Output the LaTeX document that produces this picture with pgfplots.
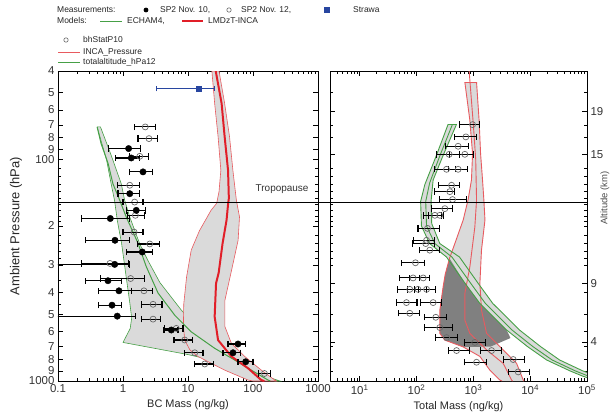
\documentclass[border=0pt]{standalone}
\usepackage{fontspec}
\setmainfont{Liberation Sans}
\usepackage{pgfplots}
\usepackage{pgfplotstable}
\pgfplotsset{compat=1.18}

\definecolor{mgreen}{RGB}{70,160,70}
\definecolor{mred}{RGB}{225,30,40}
\definecolor{lred}{RGB}{232,90,95}
\definecolor{fillg}{RGB}{218,218,218}
\definecolor{darkf}{RGB}{128,128,128}
\definecolor{mblue}{RGB}{40,70,160}
\definecolor{ogray}{RGB}{105,105,105}

% SP2 Nov. 10 (filled), BC mass
\pgfplotstableread{
x p lo hi
1.22 89.5 0.603 1.87
1.34 98.7 0.773 1.81
2.03 114 1.27 2.83
1.27 143 0.838 1.81
1.60 170 1.12 2.20
0.638 185 0.228 1.24
0.753 232 0.263 1.24
1.98 262 1.15 2.83
0.745 298 0.05 1.24
0.587 353 0.263 0.942
0.867 392 0.423 1.37
0.678 455 0.423 0.942
0.816 510 0.05 1.57
5.54 589 4.27 7.02
58.8 681 41.2 77.2
49.2 746 34.5 64.7
77.2 819 58.8 100
}\bcten

% SP2 Nov. 12 (open), BC mass
\pgfplotstableread{
x p lo hi
2.20 71.5 1.51 3.14
2.51 80.7 1.70 3.37
1.81 97 1.24 2.50
1.27 131 0.816 1.81
1.51 156 1.00 2.03
1.55 179 1.19 2.16
1.48 213 1.00 2.03
2.58 241 1.66 3.67
0.63 295 0.23 1.20
1.31 345 0.454 2.16
2.10 392 1.37 2.83
2.90 451 1.91 3.98
2.90 526 1.91 3.80
6.61 579 4.38 8.37
8.89 653 6.09 11.9
12.7 746 8.89 17.0
18.1 838 12.7 24.8
150 925 120 185
}\bctwelve

% total mass
\pgfplotstableread{
x p lo hi
968 69.8 562 1303
738 79.3 472 1138
540 87.4 327 809
375 95 224 574
708 95 385 991
337 111 210 480
540 111 360 778
413 131 240 562
385 140 210 472
430 152 257 759
315 167 183 430
210 179 131 275
257 179 160 300
156 205 106 250
150 232 86.9 210
145 240 85 205
171 257 111 257
95.7 293 54.3 140
86.9 343 50.7 114
131 343 76 171
76 386 45.4 110
106 386 70 150
150 386 93 218
66.5 443 44.3 102
196 443 117 275
76 495 47.3 114
218 516 140 337
257 574 140 430
337 637 218 519
1062 670 708 1660
506 729 360 843
2090 729 1340 3140
5020 800 3350 8070
1138 823 708 1710
6150 910 4230 9620
}\totmass

\pgfplotsset{
  ebar/.style={error bars/.cd, x dir=both, x explicit,
    error bar style={black, line width=1.1pt},
    error mark options={rotate=90, black, mark size=3.2bp, line width=1.1pt}},
}

\begin{document}
\begin{tikzpicture}
\path[use as bounding box] (0,0) rectangle (612bp,418bp);

% ---- left panel: BC mass
\begin{axis}[scale only axis, anchor=south west, at={(58bp,37bp)}, width=260bp, height=310bp,
  xmode=log, ymode=log, y dir=reverse, ymin=40, ymax=1000,
  xmin=0.1, xmax=1000,
  axis line style={line width=0.9pt}, tick style={black, line width=0.7pt},
  major tick length=5bp, minor tick length=3bp,
  tick label style={font=\fontsize{11.5}{12}\selectfont, text=black!80},
  xlabel style={font=\fontsize{11}{13}\selectfont, text=black!85},
  ylabel style={font=\fontsize{13}{14}\selectfont, text=black!85},
  xtick={0.1,1,10,100,1000}, xticklabels={0.1,1,10,100,1000},
  minor xtick={0.2,0.3,0.4,0.5,0.6,0.7,0.8,0.9,2,3,4,5,6,7,8,9,20,30,40,50,60,70,80,90,200,300,400,500,600,700,800,900},
  ytick={40,50,60,70,80,90,100,200,300,400,500,600,700,800,900,1000},
  yticklabels={4,5,6,7,8,9,100,2,3,4,5,6,7,8,9,1000},
  minor ytick={110,120,130,140,150,160,170,180,190,220,240,260,280,350,450},
  xlabel={BC Mass (ng/kg)}, ylabel={Ambient Pressure (hPa)},
]
% ECHAM4 range
\addplot[draw=mgreen, fill=fillg, line width=0.6pt] coordinates {
(0.40,71.5) (0.56,101) (0.66,130) (0.74,153) (0.82,190) (0.95,239) (1.12,340)
(1.28,450) (1.36,520) (1.29,580) (1.0,670) (10,760) (74,870) (200,975) (260,1000)
(216,1000) (74,862) (36,750) (16,607) (7.9,479) (3.7,360) (2.4,285) (1.8,240)
(1.27,182) (1.06,153) (0.94,129) (0.65,95) (0.45,71.5) (0.40,71.5)};
% LMDzT-INCA range
\addplot[draw=lred, fill=fillg, line width=0.6pt] coordinates {
(23.3,40) (25.7,56) (29,79) (32,112) (30,140) (27.6,158) (22.6,170) (15,210)
(11.2,257) (9.5,340) (8.6,450) (8.5,560) (8.9,654) (10.7,724) (14.2,775)
(36.6,893) (84,990) (100,1000)
(230,1000) (216,990) (134,893) (74.5,775) (46.5,676) (37,569) (37,432) (48,306)
(59,232) (62,182) (55.5,153) (49,112) (43.5,79) (36.6,56) (30,40) (23.3,40)};
\addplot[mgreen, line width=1pt] coordinates {
(0.40,71.5) (0.46,85) (0.59,104.5) (0.70,129) (0.89,153) (1.12,182) (1.70,239)
(2.28,305) (3.46,401) (6.25,505) (11.2,600) (25.7,712) (52.1,804) (94,893) (170,990) (185,1000)};
\addplot[mred, line width=2pt] coordinates {
(26.7,40) (32.9,56) (36.6,79) (41.3,112) (42.5,150) (41.3,160) (39.2,188) (34,240)
(29.6,326) (27,363) (25.7,513) (29,654) (46.5,775) (84,876) (134,990) (150,1000)};
% measurements
\addplot[only marks, mark=o, mark size=3bp, ogray, mark options={line width=0.7pt}, ebar]
  table[x=x, y=p, x error plus expr=\thisrow{hi}-\thisrow{x}, x error minus expr=\thisrow{x}-\thisrow{lo}] {\bctwelve};
\addplot[only marks, mark=*, mark size=3.2bp, black, ebar]
  table[x=x, y=p, x error plus expr=\thisrow{hi}-\thisrow{x}, x error minus expr=\thisrow{x}-\thisrow{lo}] {\bcten};
\addplot[only marks, mark=square*, mark size=2.8bp, mblue,
  error bars/.cd, x dir=both, x explicit, error bar style={mblue, line width=0.8pt},
  error mark options={rotate=90, mblue, mark size=2.8bp, line width=0.8pt}]
  coordinates {(14.6,48) += (11.1,0) -= (11.3,0)};
\coordinate (tl) at (axis cs:0.1,156);
\end{axis}

% ---- right panel: total mass
\begin{axis}[scale only axis, anchor=south west, at={(330bp,37bp)}, width=257bp, height=310bp,
  xmode=log, ymode=log, y dir=reverse, ymin=40, ymax=1000,
  xmin=3, xmax=100000,
  axis line style={line width=0.9pt}, tick style={black, line width=0.7pt},
  major tick length=5bp, minor tick length=3bp,
  tick label style={font=\fontsize{11.5}{12}\selectfont, text=black!80},
  xlabel style={font=\fontsize{11}{13}\selectfont, text=black!85},
  xtick={10,100,1000,10000,100000},
  xticklabels={10\textsuperscript{1},10\textsuperscript{2},10\textsuperscript{3},10\textsuperscript{4},10\textsuperscript{5}},
  minor xtick={4,5,6,7,8,9,20,30,40,50,60,70,80,90,200,300,400,500,600,700,800,900,2000,3000,4000,5000,6000,7000,8000,9000,20000,30000,40000,50000,60000,70000,80000,90000},
  yticklabel pos=right,
  ytick={61,95,362,667}, yticklabels={19,15,9,4},
  minor ytick={40,50,70,80,110,120,130,140,150,160,170,180,190,200,220,240,260,280,300,400,500,600,700,800,900},
  xlabel={Total Mass (ng/kg)},
]
% LMDzT-INCA range
\addplot[draw=none, fill=fillg] coordinates {
(708,44.9) (867,66.7) (968,94.3) (926,124) (809,152) (662,188) (472,240) (380,280) (320,330)
(294,376) (257,479) (257,610) (315,654) (662,702) (1303,775) (1950,893) (2930,990) (3200,1000)
(7800,1000) (7550,990) (5770,833) (3350,724) (1710,610) (1390,479) (1303,363) (1390,257)
(1600,188) (1530,152) (1450,124) (1340,94.3) (1262,66.7) (1138,44.9) (708,44.9)};
% ECHAM4 range
\addplot[draw=none, fill=fillg] coordinates {
(360,69.5) (224,96) (140,130) (118,155) (122,200) (170,240) (337,276) (700,360) (1303,447)
(3850,589) (9000,700) (19500,804) (50000,900) (86000,953) (100000,965)
(100000,915) (84000,900) (33000,804) (15300,700) (6500,589) (2200,447) (1190,360) (570,276)
(257,240) (185,195) (180,155) (196,124) (294,96) (506,69.5) (360,69.5)};
% overlap of the two ranges
\addplot[draw=none, fill=darkf] coordinates {
(380,280) (320,330) (294,376) (257,479) (257,610) (315,654) (662,702) (2000,700)
(4500,640) (3850,589) (1303,447) (700,360) (380,280)};
\addplot[lred, line width=0.9pt] coordinates {
(708,44.9) (867,66.7) (968,94.3) (926,124) (809,152) (662,188) (472,240) (380,280) (320,330)
(294,376) (257,479) (257,610) (315,654) (662,702) (1303,775) (1950,893) (2930,990) (3200,1000)};
\addplot[lred, line width=0.9pt] coordinates {
(1138,44.9) (1262,66.7) (1340,94.3) (1450,124) (1530,152) (1600,188) (1390,257) (1303,363)
(1390,479) (1710,610) (3350,724) (5770,833) (7550,990) (7800,1000)};
\addplot[lred, line width=0.9pt] coordinates {(708,44.9) (1138,44.9)};
\addplot[lred, line width=0.9pt] coordinates {
(843,40) (1000,70) (1100,100) (1138,153) (1062,202) (867,306) (708,403) (708,531)
(867,610) (1710,724) (3350,833) (4710,990) (4900,1000)};
\addplot[mgreen, line width=0.9pt] coordinates {
(360,69.5) (224,96) (140,130) (118,155) (122,200) (170,240) (337,276) (700,360) (1303,447)
(3850,589) (9000,700) (19500,804) (50000,900) (86000,953) (100000,965)};
\addplot[mgreen, line width=0.9pt] coordinates {
(430,69.5) (259,96) (170,128) (145,155) (150,200) (210,240) (420,276) (880,360) (1630,447)
(4800,589) (11200,700) (24400,804) (62000,900) (100000,945)};
\addplot[mgreen, line width=0.9pt] coordinates {
(506,69.5) (294,96) (196,124) (180,155) (185,195) (257,240) (570,276) (1190,360) (2200,447)
(6500,589) (15300,700) (33000,804) (84000,900) (100000,915)};
\addplot[mgreen, line width=0.9pt] coordinates {(360,69.5) (506,69.5)};
\addplot[only marks, mark=o, mark size=3bp, ogray, mark options={line width=0.7pt}, ebar]
  table[x=x, y=p, x error plus expr=\thisrow{hi}-\thisrow{x}, x error minus expr=\thisrow{x}-\thisrow{lo}] {\totmass};
\coordinate (tr) at (axis cs:100000,156);
\end{axis}

\draw[black, line width=0.9pt] (tl) -- (tr);
\node[anchor=east, font=\fontsize{10}{12}\selectfont, text=black!80] at (312bp,229bp) {Tropopause};
\node[rotate=90, font=\fontsize{9.5}{11}\selectfont, text=black!70, inner sep=0] at (605bp,220bp) {Altitude (km)};

% legend
\begin{scope}[font=\fontsize{8.5}{10}\selectfont, text=black!85]
\node[anchor=base west, inner sep=0] at (57bp,405bp) {Measurements:};
\fill[black] (146bp,408bp) circle (2.4bp);
\node[anchor=base west, inner sep=0] at (160bp,405bp) {SP2 Nov. 10,};
\draw[ogray, line width=0.6pt] (229bp,408bp) circle (2.2bp);
\node[anchor=base west, inner sep=0] at (241bp,405bp) {SP2 Nov. 12,};
\fill[mblue] (324bp,405bp) rectangle (330bp,411bp);
\node[anchor=base west, inner sep=0] at (353bp,405bp) {Strawa};
\node[anchor=base west, inner sep=0] at (57bp,394bp) {Models:};
\draw[mgreen, line width=0.7pt] (100bp,397bp) -- (122bp,397bp);
\node[anchor=base west, inner sep=0] at (127bp,394bp) {ECHAM4,};
\draw[mred, line width=2pt] (182bp,397bp) -- (203bp,397bp);
\node[anchor=base west, inner sep=0] at (208bp,394bp) {LMDzT-INCA};
\draw[ogray, line width=0.6pt] (66bp,378bp) circle (2.2bp);
\node[anchor=base west, inner sep=0] at (83bp,375bp) {bhStatP10};
\draw[lred, line width=0.8pt] (58bp,366bp) -- (80bp,366bp);
\node[anchor=base west, inner sep=0] at (83bp,363bp) {INCA\_Pressure};
\draw[mgreen, line width=0.8pt] (58bp,356bp) -- (80bp,356bp);
\node[anchor=base west, inner sep=0] at (83bp,353bp) {totalaltitude\_hPa12};
\end{scope}
\end{tikzpicture}
\end{document}
